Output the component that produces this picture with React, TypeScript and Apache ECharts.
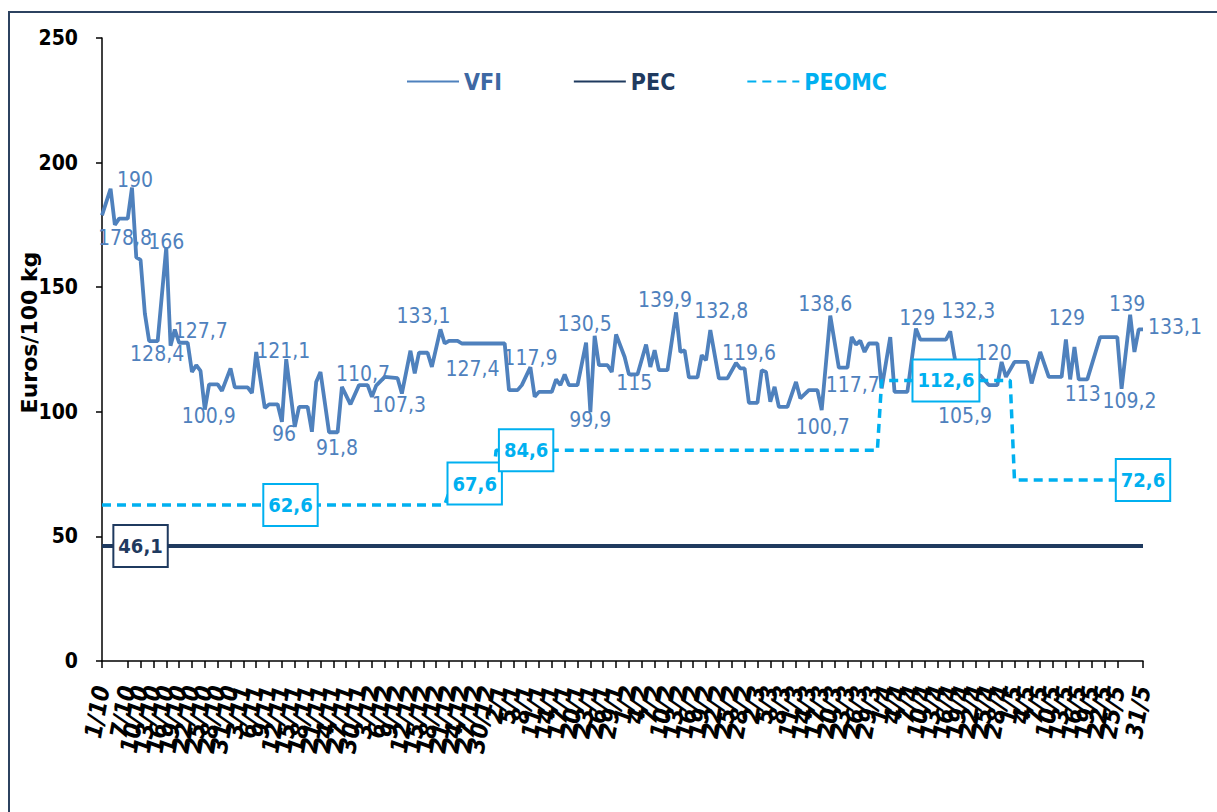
import React, { useEffect, useRef } from "react";
import * as echarts from "echarts";

const FONT = "'Liberation Sans Narrow', 'DejaVu Sans Condensed', 'Arial Narrow', sans-serif";

// x-axis categories: every day from 1 Oct 2015 to 31 May 2016 (labels d/m)
const firstDay = Date.UTC(2015, 9, 1);
const lastDay = Date.UTC(2016, 4, 31);
const categories: string[] = [];
for (let t = firstDay; t <= lastDay; t += 86400000) {
  const d = new Date(t);
  categories.push(`${d.getUTCDate()}/${d.getUTCMonth() + 1}`);
}

const yTicks = { min: 0, max: 250, interval: 50 };

// VFI – day index (from 1/10) of each recorded point, and its price (€/100 kg)
const vfiDay = [
  0, 2, 3, 4, 6, 7, 8, 9, 10, 11, 13, 15, 16, 17, 18, 20, 21, 22, 23, 24,
  25, 27, 28, 30, 31, 34, 35, 36, 38, 39, 41, 42, 43, 45, 46, 48, 49, 50, 51, 53,
  55, 56, 58, 60, 62, 63, 64, 66, 69, 70, 72, 73, 74, 76, 77, 79, 80, 81, 83, 84,
  86, 94, 95, 97, 98, 100, 101, 102, 105, 106, 107, 108, 109, 111, 113, 114, 115, 116, 118, 119,
  120, 122, 123, 124, 125, 127, 128, 129, 130, 132, 134, 135, 136, 137, 139, 140, 141, 142, 144, 146,
  148, 149, 150, 151, 153, 154, 155, 156, 157, 158, 160, 162, 163, 165, 167, 168, 170, 172, 174, 175,
  176, 177, 178, 179, 181, 182, 184, 185, 188, 190, 191, 197, 198, 199, 201, 203, 205, 207, 209, 210,
  211, 213, 216, 217, 219, 221, 224, 225, 226, 227, 228, 230, 233, 237, 238, 240, 241, 242, 243,
];
const vfiValues = [
  178.8, 189.5, 175, 177.5, 177.5, 190, 162, 161, 139.5, 128.4, 128.4, 166, 126.5, 133, 127.7, 127.7, 116, 118.7, 116.4, 100.9,
  111, 111, 108.4, 117.4, 109.8, 109.8, 107.5, 124, 101.5, 103, 103, 96, 121.1, 94, 102, 102, 92, 112, 116, 91.8,
  91.8, 110, 103, 110.7, 110.7, 106, 110.5, 114, 113.5, 107.3, 124.5, 115.4, 123.7, 123.7, 118, 133.1, 127.4, 128.5, 128.5, 127.4,
  127.4, 127.4, 108.7, 108.7, 110.7, 117.9, 106, 108, 108, 113, 110.7, 115, 110.7, 110.7, 127.8, 99.9, 130.5, 118.7, 118.7, 116,
  131, 122, 115, 115, 115, 127, 118, 124.7, 116.7, 116.7, 139.9, 124, 124.7, 113.8, 113.8, 122.7, 120.7, 132.8, 113.4, 113.4,
  119.6, 117.4, 117.4, 103.6, 103.6, 116.7, 116, 104, 110, 102, 102, 112, 105.4, 108.7, 108.7, 100.7, 138.6, 117.7, 117.7, 130,
  127, 128.5, 124, 127.4, 127.4, 109.4, 130, 108, 108, 133.4, 129, 129, 132.3, 122, 105.9, 114, 114.7, 110.7, 110.7, 120,
  114, 120, 120, 111.4, 124, 114, 114, 129, 113, 126, 113, 113, 130, 130, 109.2, 139, 124, 133.1, 133.1,
];

// PEC – constant
const pecDay = [0, 9, 243];
const pecValues = [46.1, 46.1, 46.1];

// PEOMC – step levels
const peomcDay = [0, 44, 80, 81, 87, 91, 92, 99, 181, 182, 197, 212, 213, 243];
const peomcValues = [62.6, 62.6, 62.6, 67.6, 67.6, 67.6, 84.6, 84.6, 84.6, 112.6, 112.6, 112.6, 72.6, 72.6];

// which points carry a data label (day index, placement)
const vfiLabelSpec: { day: number; pos: string; dx: number; dy: number }[] = [
  { day: 0, pos: "bottom", dx: 23, dy: 7 },
  { day: 7, pos: "top", dx: 3, dy: 8 },
  { day: 15, pos: "top", dx: 0, dy: 10 },
  { day: 11, pos: "bottom", dx: 8, dy: -3 },
  { day: 20, pos: "top", dx: 13, dy: 4 },
  { day: 24, pos: "bottom", dx: 4, dy: -9 },
  { day: 43, pos: "top", dx: -3, dy: 7 },
  { day: 42, pos: "bottom", dx: 2, dy: -3 },
  { day: 53, pos: "bottom", dx: 8, dy: 0 },
  { day: 60, pos: "top", dx: 4, dy: 4 },
  { day: 70, pos: "bottom", dx: -3, dy: -4 },
  { day: 79, pos: "top", dx: -17, dy: 2 },
  { day: 86, pos: "bottom", dx: 2, dy: 10 },
  { day: 100, pos: "top", dx: 0, dy: 6 },
  { day: 114, pos: "bottom", dx: 0, dy: -8 },
  { day: 115, pos: "top", dx: -10, dy: 4 },
  { day: 124, pos: "bottom", dx: 1, dy: -7 },
  { day: 134, pos: "top", dx: -11, dy: 3 },
  { day: 142, pos: "top", dx: 11, dy: -4 },
  { day: 148, pos: "top", dx: 13, dy: 6 },
  { day: 168, pos: "bottom", dx: 1, dy: 1 },
  { day: 170, pos: "top", dx: -5, dy: 4 },
  { day: 172, pos: "bottom", dx: 14, dy: 2 },
  { day: 191, pos: "top", dx: -3, dy: -6 },
  { day: 198, pos: "top", dx: 18, dy: -5 },
  { day: 201, pos: "bottom", dx: 2, dy: 3 },
  { day: 210, pos: "top", dx: -8, dy: 7 },
  { day: 225, pos: "top", dx: 1, dy: -6 },
  { day: 228, pos: "bottom", dx: 4, dy: -1 },
  { day: 238, pos: "bottom", dx: 8, dy: -3 },
  { day: 240, pos: "top", dx: -3, dy: 5 },
  { day: 243, pos: "right", dx: 0, dy: -2 },
];
const pecLabelDays = [9];
const peomcLabelDays = [44, 87, 99, 197, 243];
const peomcLabelShift: Record<number, number> = { 87: -9 };

const VFI_COLOR = "#4F81BD";
const PEC_COLOR = "#1F3A5F";
const PEOMC_COLOR = "#00B0F0";

const fmt = (p: any) => String(p.value[1]).replace(".", ",");

export default function App() {
  const ref = useRef<HTMLDivElement>(null);
  useEffect(() => {
    if (!ref.current) return;
    const chart = echarts.init(ref.current, undefined, { renderer: "svg" });

    const vfiData = vfiDay.map((d, k) => {
      const spec = vfiLabelSpec.find((s) => s.day === d);
      const item: any = { value: [categories[d], vfiValues[k]] };
      if (spec) item.label = { show: true, position: spec.pos, offset: [spec.dx, spec.dy] };
      return item;
    });
    const boxLabel = (color: string, dy = 0) => ({
      show: true,
      position: "inside",
      offset: [0, dy],
      backgroundColor: "#ffffff",
      borderColor: color,
      borderWidth: 2,
      padding: [11, 4, 9, 4],
      color,
      fontSize: 20,
      fontWeight: "bold",
      fontFamily: FONT,
      formatter: fmt,
    });
    const pecData = pecDay.map((d, k) => {
      const item: any = { value: [categories[d], pecValues[k]] };
      if (pecLabelDays.includes(d)) item.label = boxLabel(PEC_COLOR);
      return item;
    });
    const peomcData = peomcDay.map((d, k) => {
      const item: any = { value: [categories[d], peomcValues[k]] };
      if (peomcLabelDays.includes(d)) item.label = boxLabel(PEOMC_COLOR, peomcLabelShift[d] || 0);
      return item;
    });

    const hiddenSymbol = {
      showSymbol: true,
      showAllSymbol: true,
      symbol: "circle",
      symbolSize: 0.01,
    };

    chart.setOption({
      animation: false,
      backgroundColor: "#ffffff",
      graphic: [
        {
          type: "rect",
          shape: { x: 9, y: 12, width: 1240, height: 830 },
          style: { fill: "none", stroke: "#2C4260", lineWidth: 2 },
          silent: true,
        },
      ],
      grid: { left: 102, right: 74, top: 38, bottom: 151, outerBoundsMode: "none" },
      legend: {
        left: 401,
        top: 65,
        itemWidth: 52,
        itemHeight: 14,
        itemGap: 71,
        itemStyle: { color: "transparent", borderColor: "transparent", borderWidth: 0 },
        textStyle: { fontSize: 23, fontWeight: "bold", fontFamily: FONT },
        data: [
          { name: "VFI", textStyle: { color: "#3D68A3" } },
          { name: "PEC", textStyle: { color: "#1F3A5F" } },
          { name: "PEOMC", textStyle: { color: PEOMC_COLOR } },
        ],
      },
      xAxis: {
        type: "category",
        boundaryGap: false,
        data: categories,
        axisLine: { lineStyle: { color: "#000", width: 1.5 } },
        axisTick: { interval: 2, length: 7, lineStyle: { color: "#000", width: 1.5 } },
        axisLabel: {
          interval: 2,
          rotate: 80,
          margin: 25,
          showMinLabel: true,
          showMaxLabel: true,
          hideOverlap: false,
          color: "#000",
          fontSize: 24,
          fontWeight: "bold",
          fontStyle: "italic",
          fontFamily: FONT,
        },
        splitLine: { show: false },
      },
      yAxis: {
        type: "value",
        min: yTicks.min,
        max: yTicks.max,
        interval: yTicks.interval,
        name: "Euros/100 kg",
        nameLocation: "middle",
        nameRotate: 90,
        nameGap: 62,
        nameMoveOverlap: false,
        nameTextStyle: {
          fontSize: 22,
          fontWeight: "bold",
          color: "#000",
          fontFamily: "'DejaVu Sans', sans-serif",
          padding: [0, 0, 0, 34],
        },
        axisLine: { show: true, lineStyle: { color: "#000", width: 1.5 } },
        axisTick: { show: true, length: 6, lineStyle: { color: "#000", width: 1.5 } },
        axisLabel: { margin: 24, color: "#000", fontSize: 21, fontWeight: "bold", fontFamily: FONT },
        splitLine: { show: false },
      },
      series: [
        {
          name: "VFI",
          type: "line",
          data: vfiData,
          ...hiddenSymbol,
          color: VFI_COLOR,
          lineStyle: { color: VFI_COLOR, width: 3.8 },
          label: { show: false, color: VFI_COLOR, fontSize: 21, fontFamily: FONT, formatter: fmt },
          z: 2,
        },
        {
          name: "PEC",
          type: "line",
          data: pecData,
          ...hiddenSymbol,
          color: PEC_COLOR,
          lineStyle: { color: PEC_COLOR, width: 4 },
          label: { show: false },
          z: 3,
        },
        {
          name: "PEOMC",
          type: "line",
          data: peomcData,
          ...hiddenSymbol,
          color: PEOMC_COLOR,
          lineStyle: { color: PEOMC_COLOR, width: 3.5, type: [9, 6] },
          label: { show: false },
          z: 4,
        },
      ],
    });
    return () => chart.dispose();
  }, []);
  return <div ref={ref} style={{ position: "absolute", left: 0, top: 0, width: 1217, height: 812 }} />;
}
